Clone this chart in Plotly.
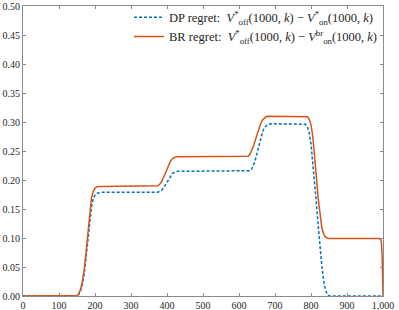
import plotly.graph_objects as go

# DP regret curve
dp_x = [0, 150, 155, 160, 165, 170, 175, 180, 185, 190, 195, 200, 205, 210, 220,
        375, 380, 385, 390, 395, 400, 405, 410, 415, 420, 425, 430, 440,
        625, 630, 635, 640, 645, 650, 655, 660, 665, 670, 675, 680, 690,
        780, 785, 790, 795, 800, 805, 810, 815, 820, 825, 830, 835, 840, 845, 850, 855, 1000]
dp_y = [0, 0, 0.003, 0.009, 0.02, 0.038, 0.065, 0.098, 0.13, 0.153, 0.167, 0.174, 0.177, 0.178, 0.179,
        0.179, 0.18, 0.182, 0.186, 0.191, 0.197, 0.203, 0.208, 0.211, 0.213, 0.214, 0.215, 0.215,
        0.215, 0.216, 0.219, 0.225, 0.234, 0.246, 0.259, 0.272, 0.282, 0.29, 0.294, 0.296, 0.297,
        0.297, 0.296, 0.292, 0.282, 0.262, 0.232, 0.197, 0.16, 0.122, 0.085, 0.052, 0.027, 0.011, 0.003, 0.0005, 0, 0]

# BR regret curve
br_x = [0, 140, 150, 155, 160, 165, 170, 175, 180, 185, 190, 195, 200, 205, 210, 220,
        370, 375, 380, 385, 390, 395, 400, 405, 410, 415, 420, 425, 430, 440,
        620, 625, 630, 635, 640, 645, 650, 655, 660, 665, 670, 675, 680, 690,
        785, 790, 795, 800, 805, 810, 815, 820, 825, 830, 835, 840, 845, 850, 860,
        990, 994, 996, 998, 1000]
br_y = [0, 0, 0.001, 0.004, 0.012, 0.025, 0.045, 0.075, 0.11, 0.145, 0.168, 0.18, 0.186, 0.188, 0.189, 0.189,
        0.189, 0.19, 0.193, 0.197, 0.204, 0.212, 0.22, 0.228, 0.233, 0.237, 0.239, 0.24, 0.24, 0.24,
        0.24, 0.241, 0.244, 0.25, 0.258, 0.268, 0.279, 0.289, 0.297, 0.303, 0.307, 0.309, 0.31, 0.31,
        0.31, 0.309, 0.305, 0.295, 0.275, 0.245, 0.205, 0.168, 0.138, 0.118, 0.107, 0.102, 0.1, 0.099, 0.099,
        0.099, 0.097, 0.09, 0.06, 0.0]

x_ticks = [0, 100, 200, 300, 400, 500, 600, 700, 800, 900, 1000]
x_labels = ["0", "100", "200", "300", "400", "500", "600", "700", "800", "900", "1,000"]
y_ticks = [0.0, 0.05, 0.10, 0.15, 0.20, 0.25, 0.30, 0.35, 0.40, 0.45, 0.50]
y_labels = ["0.00", "0.05", "0.10", "0.15", "0.20", "0.25", "0.30", "0.35", "0.40", "0.45", "0.50"]

dp_name = "DP regret:  <i>V</i><sup>*</sup><sub>off</sub>(1000, <i>k</i>) − <i>V</i><sup>*</sup><sub>on</sub>(1000, <i>k</i>)"
br_name = "BR regret:  <i>V</i><sup>*</sup><sub>off</sub>(1000, <i>k</i>) − <i>V</i><sup>br</sup><sub>on</sub>(1000, <i>k</i>)"

fig = go.Figure()
fig.add_trace(go.Scatter(x=dp_x, y=dp_y, mode="lines", name=dp_name,
                         line=dict(color="#0072BD", width=1.5, dash="3px,2px")))
fig.add_trace(go.Scatter(x=br_x, y=br_y, mode="lines", name=br_name,
                         line=dict(color="#D95319", width=1.5)))

axis_color = "#8a8a8a"
font = dict(family="Liberation Serif", size=10, color="#262626")
fig.update_layout(
    width=399, height=310,
    margin=dict(l=23, r=16, t=6, b=14, autoexpand=False),
    paper_bgcolor="white", plot_bgcolor="white",
    font=font,
    showlegend=True,
    legend=dict(x=1.0, y=1.012, xanchor="right", yanchor="top",
                bgcolor="rgba(255,255,255,0)", borderwidth=0,
                font=dict(family="Liberation Serif", size=12.5, color="#262626"),
                tracegroupgap=0, itemwidth=30),
    xaxis=dict(range=[0, 1000], tickvals=x_ticks, ticktext=x_labels, automargin=False,
               showgrid=False, zeroline=False, showline=True, linecolor=axis_color, linewidth=1,
               mirror="ticks", ticks="inside", ticklen=3, tickcolor=axis_color),
    yaxis=dict(range=[0, 0.5], tickvals=y_ticks, ticktext=y_labels, automargin=False,
               showgrid=False, zeroline=False, showline=True, linecolor=axis_color, linewidth=1,
               mirror="ticks", ticks="inside", ticklen=3, tickcolor=axis_color),
)
fig.write_html("out.html", config={"displayModeBar": False},
               post_script="document.body.style.margin='0';")
